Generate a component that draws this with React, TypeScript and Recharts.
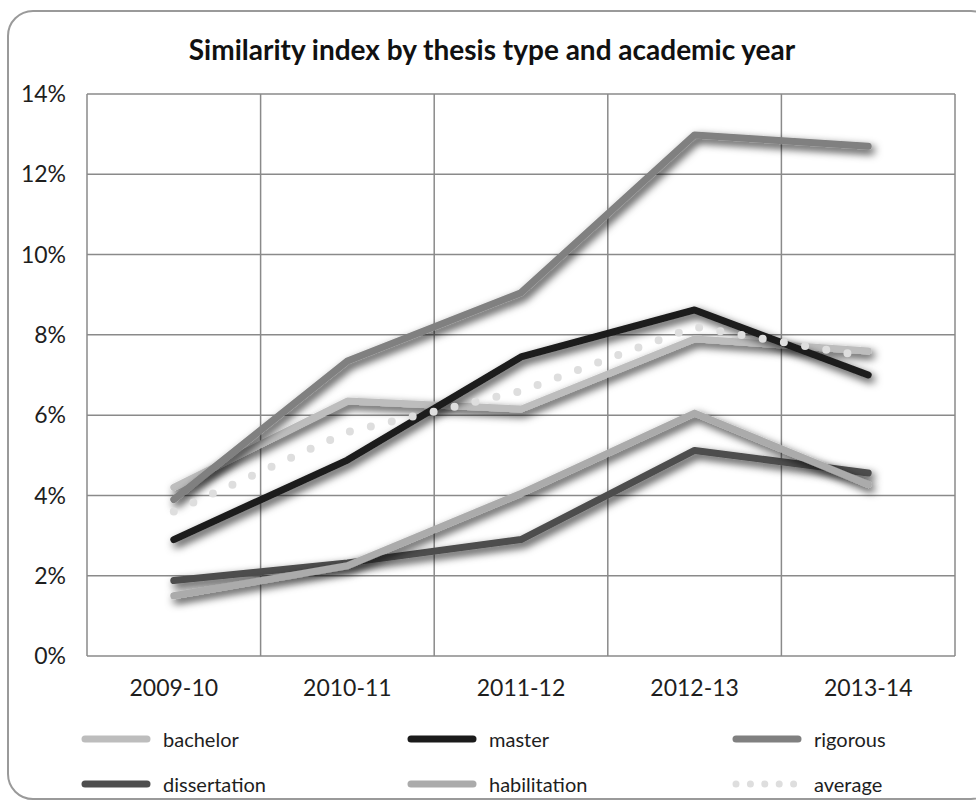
import React from 'react';
import { LineChart, Line, XAxis, YAxis, CartesianGrid } from 'recharts';

// Academic years on the category axis
const years = ['2009-10', '2010-11', '2011-12', '2012-13', '2013-14'];

// Similarity index per thesis type, in percent
const bachelor = [4.2, 6.35, 6.15, 7.9, 7.6];
const master = [2.9, 4.88, 7.45, 8.62, 7.0];
const rigorous = [3.9, 7.35, 9.05, 12.98, 12.7];
const dissertation = [1.88, 2.32, 2.9, 5.12, 4.56];
const habilitation = [1.5, 2.25, 4.05, 6.05, 4.27];
const average = [3.6, 5.58, 6.6, 8.2, 7.45];

const yTicks = [0, 2, 4, 6, 8, 10, 12, 14];

const data = years.map((year, i) => ({
  year,
  bachelor: bachelor[i],
  master: master[i],
  rigorous: rigorous[i],
  dissertation: dissertation[i],
  habilitation: habilitation[i],
  average: average[i],
}));

type Series = { key: string; label: string; color: string; dotted?: boolean };

// Drawing order: later series paint over earlier ones
const series: Series[] = [
  { key: 'bachelor', label: 'bachelor', color: '#bdbdbd' },
  { key: 'master', label: 'master', color: '#1b1b1b' },
  { key: 'rigorous', label: 'rigorous', color: '#808080' },
  { key: 'dissertation', label: 'dissertation', color: '#4e4e4e' },
  { key: 'habilitation', label: 'habilitation', color: '#ababab' },
  { key: 'average', label: 'average', color: '#dedede', dotted: true },
];

// Legend layout: two rows of three entries
const legendRows = [
  ['bachelor', 'master', 'rigorous'],
  ['dissertation', 'habilitation', 'average'],
];
const legendColX = [85, 411, 736];
const legendRowY = [739, 784];

const FONT = 'Lato, "Open Sans", sans-serif';

// Plot geometry: the category axis is split into equal bands with
// each year centred in its band
const PLOT_LEFT = 87;
const PLOT_RIGHT_MARGIN = 21;
const PLOT_WIDTH = 976 - PLOT_LEFT - PLOT_RIGHT_MARGIN;
const HALF_BAND = PLOT_WIDTH / years.length / 2;

function LegendSwatch({ s }: { s: Series }) {
  return (
    <svg width={70} height={10} style={{ display: 'block' }}>
      <line
        x1={4}
        y1={5}
        x2={66}
        y2={5}
        stroke={s.color}
        strokeWidth={7}
        strokeLinecap="round"
        strokeDasharray={s.dotted ? '0 14.4' : undefined}
      />
    </svg>
  );
}

export default function App() {
  return (
    <div
      style={{
        position: 'absolute',
        left: 0,
        top: 0,
        width: 976,
        height: 802,
        overflow: 'hidden',
        background: '#fff',
        fontFamily: FONT,
      }}
    >
      <div
        style={{
          position: 'absolute',
          left: 7,
          top: 10,
          width: 990,
          height: 790,
          border: '2px solid #9a9a9a',
          borderRadius: 26,
          boxSizing: 'border-box',
        }}
      />
      <div
        style={{
          position: 'absolute',
          left: 0,
          top: 31,
          width: 984,
          textAlign: 'center',
          fontSize: 28,
          fontWeight: 700,
          color: '#111',
          lineHeight: '36px',
        }}
      >
        Similarity index by thesis type and academic year
      </div>
      <div style={{ position: 'absolute', left: 0, top: 0 }}>
        <LineChart
          width={976}
          height={720}
          data={data}
          margin={{ top: 94, right: PLOT_RIGHT_MARGIN, left: 0, bottom: 0 }}
        >
          <defs>
            <filter
              id="lineShadow"
              filterUnits="userSpaceOnUse"
              x={0}
              y={0}
              width={976}
              height={802}
            >
              <feDropShadow dx={3} dy={4} stdDeviation={4.5} floodColor="#000" floodOpacity={0.8} />
            </filter>
          </defs>
          <CartesianGrid
            stroke="#8a8a8a"
            strokeWidth={1.5}
            verticalCoordinatesGenerator={({ offset }: any) =>
              Array.from({ length: years.length + 1 }, (_, i) => offset.left + (i * offset.width) / years.length)
            }
          />
          <XAxis
            dataKey="year"
            axisLine={false}
            tickLine={false}
            tickSize={0}
            tickMargin={24}
            height={64}
            padding={{ left: HALF_BAND, right: HALF_BAND }}
            tick={{ fontSize: 23, fill: '#1e1e1e', fontFamily: FONT }}
          />
          <YAxis
            domain={[0, 14]}
            ticks={yTicks}
            axisLine={false}
            tickLine={false}
            tickSize={0}
            tickMargin={21}
            width={PLOT_LEFT}
            tickFormatter={(v: number) => `${v}%`}
            tick={{ fontSize: 23, fill: '#1e1e1e', fontFamily: FONT }}
          />
          {series.map((s) => (
            <Line
              key={s.key}
              type="linear"
              dataKey={s.key}
              name={s.label}
              stroke={s.color}
              strokeWidth={s.dotted ? 8 : 7}
              strokeLinecap="round"
              strokeLinejoin="round"
              strokeDasharray={s.dotted ? '0 21.5' : undefined}
              filter={s.dotted ? undefined : 'url(#lineShadow)'}
              dot={false}
              activeDot={false}
              isAnimationActive={false}
            />
          ))}
        </LineChart>
      </div>
      {legendRows.map((row, r) =>
        row.map((key, c) => {
          const s = series.find((x) => x.key === key)!;
          return (
            <div
              key={key}
              style={{
                position: 'absolute',
                left: legendColX[c] - 4,
                top: legendRowY[r] - 14,
                height: 28,
                display: 'flex',
                alignItems: 'center',
                gap: 12,
              }}
            >
              <LegendSwatch s={s} />
              <span style={{ fontSize: 20, color: '#1e1e1e' }}>{s.label}</span>
            </div>
          );
        })
      )}
    </div>
  );
}
